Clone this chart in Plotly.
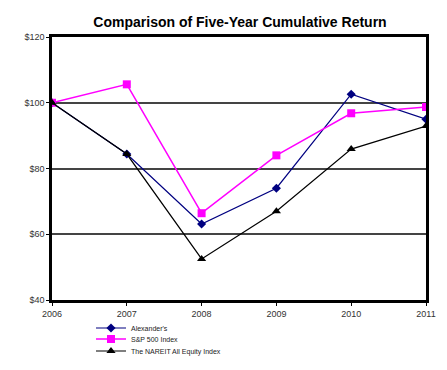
import plotly.graph_objects as go

years = [2006, 2007, 2008, 2009, 2010, 2011]
alexanders = [100, 84.4, 63.1, 74.0, 102.6, 95.0]
sp500 = [100, 105.6, 66.4, 84.0, 96.8, 98.7]
nareit = [100, 84.4, 52.5, 67.0, 85.9, 92.9]
y_ticks = [40, 60, 80, 100, 120]
y_tick_labels = ["$40", "$60", "$80", "$100", "$120"]

# page body adds ~8px offset; figure sized to compensate
W, H = 439, 362

fig = go.Figure()
fig.add_trace(go.Scatter(x=years, y=alexanders, name="Alexander's", mode="lines+markers",
                         legend="legend",
                         line=dict(color="#000080", width=1.2),
                         marker=dict(symbol="diamond", size=7, color="#000080")))
fig.add_trace(go.Scatter(x=years, y=sp500, name="S&P 500 Index", mode="lines+markers",
                         legend="legend2",
                         line=dict(color="#FF00FF", width=1.5),
                         marker=dict(symbol="square", size=8, color="#FF00FF")))
fig.add_trace(go.Scatter(x=years, y=nareit, name="The NAREIT All Equity Index", mode="lines+markers",
                         legend="legend3",
                         line=dict(color="#000000", width=1.2),
                         marker=dict(symbol="triangle-up", size=8, color="#000000")))

leg_common = dict(xref="container", yref="container", xanchor="left", yanchor="middle",
                  font=dict(size=7, color="#222"), bgcolor="rgba(0,0,0,0)",
                  itemwidth=30, borderwidth=0)
lx = 83 / W

fig.update_layout(
    width=W, height=H,
    margin=dict(l=44, r=21, t=29, b=70, autoexpand=False),
    paper_bgcolor="white", plot_bgcolor="white",
    font=dict(family="Arial, Liberation Sans, sans-serif", color="#222"),
    title=dict(text="<b>Comparison of Five-Year Cumulative Return</b>",
               x=(240 - 8) / W, xanchor="center", yref="container", y=1 - 14 / H, yanchor="middle",
               font=dict(size=14, color="black")),
    showlegend=True,
    legend=dict(x=lx, y=1 - 320 / H, **leg_common),
    legend2=dict(x=lx, y=1 - 331 / H, **leg_common),
    legend3=dict(x=lx, y=1 - 343 / H, **leg_common),
    xaxis=dict(range=[2006, 2011], tickvals=years, ticktext=[str(y) for y in years],
               showgrid=False, showline=True, linecolor="black", linewidth=2.5, mirror=True,
               ticks="outside", ticklen=3, tickcolor="black", automargin=False,
               tickfont=dict(size=9, color="#333"), zeroline=False),
    yaxis=dict(range=[40, 120], tickvals=y_ticks, ticktext=y_tick_labels,
               showgrid=True, gridcolor="#444", gridwidth=1.5,
               showline=True, linecolor="black", linewidth=2.5, mirror=True,
               ticks="outside", ticklen=3, tickcolor="black", automargin=False,
               tickfont=dict(size=9, color="#333"), zeroline=False),
)

fig.write_html("out.html")
